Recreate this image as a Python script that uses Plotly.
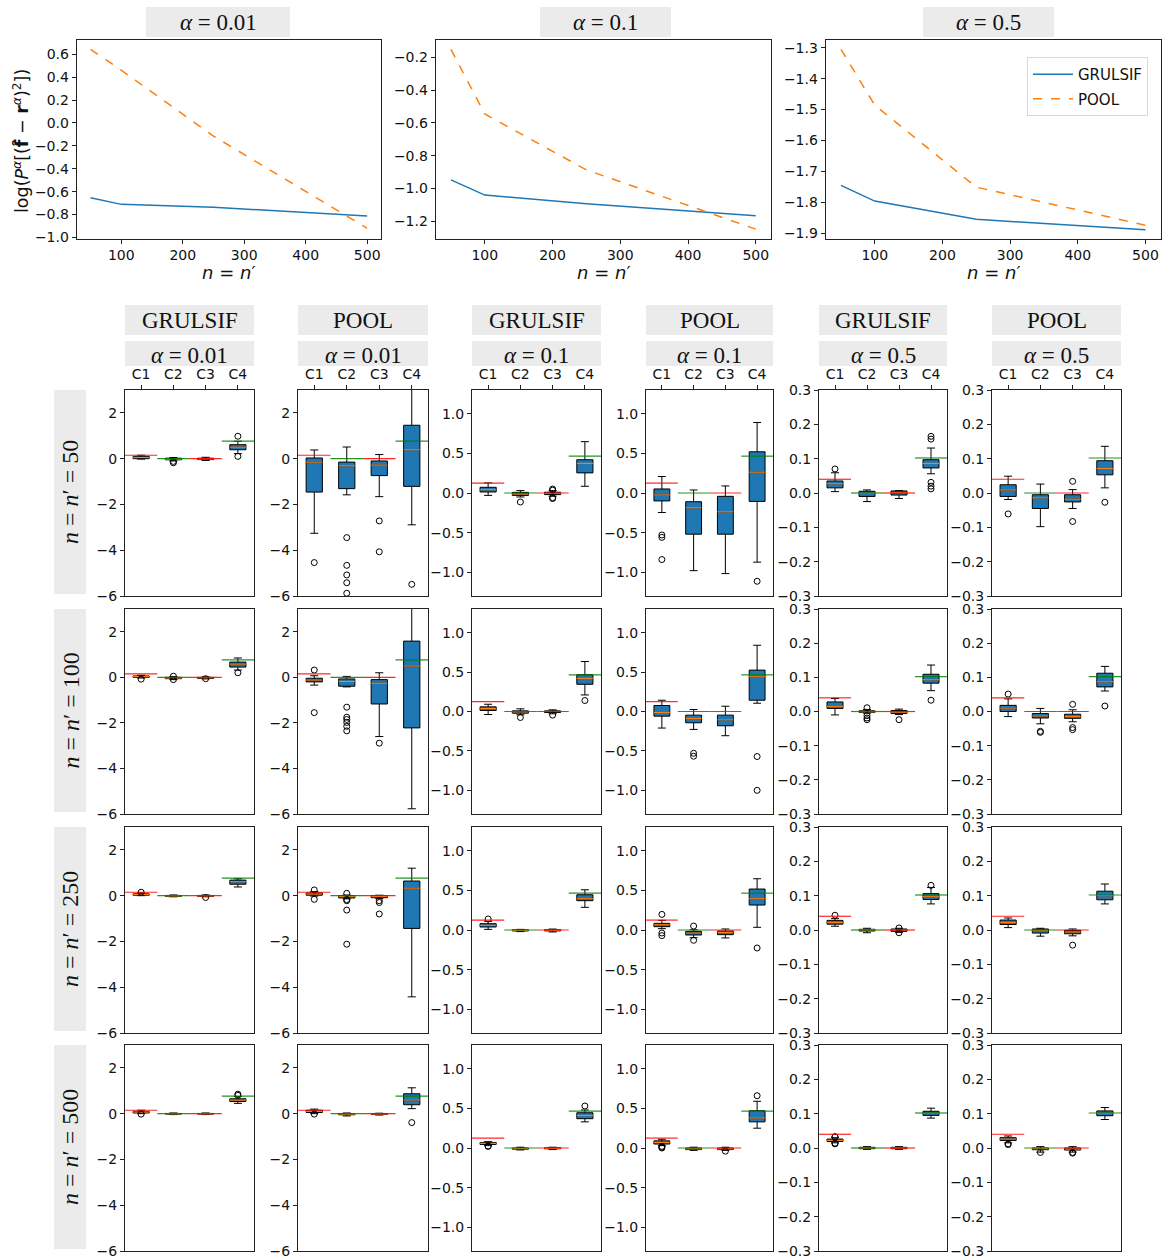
import plotly.graph_objects as go

W, H = 1164, 1260

# ---------------- data: top line plots ----------------
N_VALUES = [50, 100, 250, 500]
ALPHA_LABELS = ["0.01", "0.1", "0.5"]
GRULSIF_A001 = [-0.653, -0.711, -0.737, -0.812]
POOL_A001 = [0.643, 0.46, -0.115, -0.92]
GRULSIF_A01 = [-0.948, -1.041, -1.094, -1.167]
POOL_A01 = [-0.151, -0.546, -0.887, -1.249]
GRULSIF_A05 = [-1.745, -1.796, -1.855, -1.889]
POOL_A05 = [-1.305, -1.486, -1.751, -1.874]

# ---------------- data: boxplots ----------------
CATEGORIES = ["C1", "C2", "C3", "C4"]
METHODS = ["GRULSIF", "POOL"]
# each box: [lower whisker, q1, median, q3, upper whisker]
G001_50 = [[-0.02, 0.0, 0.05, 0.1, 0.15], [-0.1, -0.05, -0.02, 0.02, 0.05], [-0.08, -0.04, -0.01, 0.02, 0.06], [0.22, 0.39, 0.5, 0.61, 0.76]]
G001_50_OUT = [[], [-0.12, -0.18], [], [0.98, 0.1]]
P001_50 = [[-3.26, -1.46, -0.15, 0.03, 0.38], [-1.58, -1.31, -0.31, -0.15, 0.51], [-1.66, -0.74, -0.28, -0.1, 0.18], [-2.89, -1.21, 0.39, 1.46, 3.1]]
P001_50_OUT = [[-4.54], [-3.45, -4.66, -5.08, -5.42, -5.88], [-2.72, -4.07], [-5.49]]
G01_50 = [[-0.03, 0.013, 0.042, 0.072, 0.127], [-0.05, -0.03, -0.013, 0.008, 0.03], [-0.04, -0.02, -0.005, 0.01, 0.03], [0.085, 0.254, 0.373, 0.42, 0.648]]
G01_50_OUT = [[], [-0.114], [0.05, 0.035, -0.06, -0.07], []]
P01_50 = [[-0.246, -0.10, -0.025, 0.051, 0.208], [-0.98, -0.52, -0.186, -0.11, 0.038], [-1.017, -0.52, -0.237, -0.042, 0.089], [-0.873, -0.106, 0.263, 0.52, 0.89]]
P01_50_OUT = [[-0.53, -0.56, -0.84], [], [], [-1.114]]
G05_50 = [[0.004, 0.015, 0.027, 0.035, 0.059], [-0.025, -0.01, -0.001, 0.005, 0.009], [-0.016, -0.006, 0.001, 0.006, 0.007], [0.056, 0.073, 0.086, 0.097, 0.131]]
G05_50_OUT = [[0.07], [], [], [0.165, 0.157, 0.031, 0.02, 0.012]]
P05_50 = [[-0.019, -0.01, 0.009, 0.024, 0.049], [-0.098, -0.045, -0.014, -0.005, 0.026], [-0.045, -0.026, -0.018, -0.005, 0.01], [0.015, 0.053, 0.071, 0.094, 0.136]]
P05_50_OUT = [[-0.061], [], [0.034, -0.083], [-0.027]]

G001_100 = [[-0.03, 0.0, 0.03, 0.06, 0.09], [-0.1, -0.06, -0.03, 0.0, 0.03], [-0.07, -0.05, -0.02, 0.0, 0.02], [0.32, 0.45, 0.58, 0.67, 0.85]]
G001_100_OUT = [[-0.08], [0.05, -0.1], [-0.06], [0.2]]
P001_100 = [[-0.34, -0.2, -0.12, -0.04, 0.07], [-0.42, -0.39, -0.18, -0.07, 0.04], [-2.6, -1.17, -0.26, -0.1, 0.2], [-5.77, -2.22, 0.5, 1.59, 3.1]]
P001_100_OUT = [[0.32, -1.55], [-1.31, -1.75, -1.85, -1.98, -2.15, -2.35], [-2.89], []]
G01_100 = [[-0.038, 0.013, 0.038, 0.059, 0.092], [-0.042, -0.021, -0.004, 0.008, 0.034], [-0.029, -0.013, 0.0, 0.008, 0.021], [0.21, 0.345, 0.42, 0.466, 0.634]]
G01_100_OUT = [[], [-0.076], [-0.046], [0.139]]
P01_100 = [[-0.21, -0.059, -0.013, 0.076, 0.143], [-0.227, -0.143, -0.088, -0.046, 0.025], [-0.307, -0.181, -0.105, -0.046, 0.067], [0.105, 0.143, 0.441, 0.525, 0.84]]
P01_100_OUT = [[], [-0.53, -0.567], [], [-0.571, -1.0]]
G05_100 = [[-0.01, 0.009, 0.015, 0.028, 0.038], [-0.005, -0.003, -0.001, 0.002, 0.006], [-0.009, -0.006, -0.002, 0.003, 0.007], [0.061, 0.083, 0.093, 0.109, 0.136]]
G05_100_OUT = [[], [0.011, -0.012, -0.019, -0.024], [-0.024], [0.033]]
P05_100 = [[-0.015, 0.0, 0.01, 0.018, 0.037], [-0.036, -0.019, -0.013, -0.006, 0.009], [-0.03, -0.02, -0.015, -0.008, 0.005], [0.06, 0.072, 0.087, 0.112, 0.132]]
P05_100_OUT = [[0.051], [-0.058, -0.061], [0.021, -0.047, -0.053], [0.016]]

G001_250 = [[0.0, 0.02, 0.05, 0.08, 0.12], [-0.05, -0.03, -0.01, 0.01, 0.03], [-0.05, -0.03, -0.01, 0.01, 0.03], [0.38, 0.5, 0.61, 0.68, 0.74]]
G001_250_OUT = [[0.15], [], [-0.08], []]
P001_250 = [[-0.02, 0.02, 0.07, 0.12, 0.18], [-0.14, -0.1, -0.04, 0.0, 0.03], [-0.13, -0.09, -0.04, 0.0, 0.02], [-4.42, -1.43, 0.33, 0.64, 1.2]]
P001_250_OUT = [[0.25, -0.16], [0.1, -0.17, -0.22, -0.63, -2.12], [-0.22, -0.3, -0.8], []]
G01_250 = [[0.008, 0.038, 0.059, 0.08, 0.109], [-0.02, -0.012, -0.005, 0.002, 0.008], [-0.025, -0.012, -0.003, 0.004, 0.012], [0.286, 0.37, 0.395, 0.445, 0.508]]
G01_250_OUT = [[0.139], [], [], []]
P01_250 = [[0.017, 0.042, 0.067, 0.084, 0.122], [-0.097, -0.063, -0.038, -0.017, 0.004], [-0.1, -0.059, -0.03, -0.013, 0.013], [0.034, 0.315, 0.395, 0.517, 0.647]]
P01_250_OUT = [[0.197, -0.038, -0.071], [0.05, -0.13], [], [-0.227]]
G05_250 = [[0.011, 0.017, 0.022, 0.028, 0.033], [-0.008, -0.003, 0.0, 0.002, 0.005], [-0.007, -0.004, 0.0, 0.003, 0.005], [0.076, 0.089, 0.097, 0.106, 0.124]]
G05_250_OUT = [[0.043], [], [0.006, -0.008], [0.13]]
P05_250 = [[0.007, 0.016, 0.022, 0.029, 0.035], [-0.018, -0.009, -0.002, 0.003, 0.005], [-0.017, -0.011, -0.006, -0.001, 0.003], [0.076, 0.088, 0.1, 0.113, 0.134]]
P05_250_OUT = [[], [], [-0.044], []]

G001_500 = [[0.0, 0.03, 0.07, 0.1, 0.15], [-0.04, -0.02, -0.005, 0.01, 0.03], [-0.04, -0.02, -0.005, 0.01, 0.03], [0.45, 0.53, 0.59, 0.65, 0.75]]
G001_500_OUT = [[-0.02], [], [], [0.8, 0.85]]
P001_500 = [[0.0, 0.05, 0.1, 0.15, 0.2], [-0.1, -0.05, -0.02, 0.0, 0.03], [-0.06, -0.03, -0.01, 0.0, 0.02], [0.22, 0.39, 0.6, 0.87, 1.13]]
P001_500_OUT = [[-0.02], [], [], [-0.39]]
G01_500 = [[0.03, 0.045, 0.058, 0.07, 0.08], [-0.025, -0.015, -0.008, 0.0, 0.01], [-0.02, -0.01, -0.004, 0.002, 0.01], [0.33, 0.37, 0.41, 0.445, 0.48]]
G01_500_OUT = [[0.02, 0.025], [], [], [0.53]]
P01_500 = [[0.03, 0.05, 0.07, 0.09, 0.11], [-0.03, -0.02, -0.01, 0.0, 0.01], [-0.03, -0.02, -0.01, 0.0, 0.01], [0.25, 0.33, 0.38, 0.47, 0.59]]
P01_500_OUT = [[0.01, 0.0, 0.02], [], [-0.04], [0.66]]
G05_500 = [[0.015, 0.019, 0.022, 0.026, 0.03], [-0.004, -0.002, 0.0, 0.002, 0.004], [-0.004, -0.002, 0.0, 0.002, 0.004], [0.087, 0.095, 0.101, 0.107, 0.116]]
G05_500_OUT = [[0.012, 0.014, 0.032, 0.033], [], [], []]
P05_500 = [[0.015, 0.022, 0.026, 0.03, 0.035], [-0.012, -0.005, -0.002, 0.0, 0.004], [-0.012, -0.006, -0.003, 0.0, 0.004], [0.083, 0.094, 0.101, 0.108, 0.118]]
P05_500_OUT = [[0.01, 0.012], [-0.013], [-0.013, -0.015], []]

# reference (true) values per category, for each alpha
REF_A001 = [0.15, 0.0, 0.0, 0.77]
REF_A01 = [0.125, 0.0, 0.0, 0.465]
REF_A05 = [0.04, 0.0, 0.0, 0.102]

# ---------------- assembling tables ----------------
LINES = [(GRULSIF_A001, POOL_A001), (GRULSIF_A01, POOL_A01), (GRULSIF_A05, POOL_A05)]
REFS = [REF_A001, REF_A001, REF_A01, REF_A01, REF_A05, REF_A05]
BOX_ROWS = [
    [(G001_50, G001_50_OUT), (P001_50, P001_50_OUT), (G01_50, G01_50_OUT), (P01_50, P01_50_OUT), (G05_50, G05_50_OUT), (P05_50, P05_50_OUT)],
    [(G001_100, G001_100_OUT), (P001_100, P001_100_OUT), (G01_100, G01_100_OUT), (P01_100, P01_100_OUT), (G05_100, G05_100_OUT), (P05_100, P05_100_OUT)],
    [(G001_250, G001_250_OUT), (P001_250, P001_250_OUT), (G01_250, G01_250_OUT), (P01_250, P01_250_OUT), (G05_250, G05_250_OUT), (P05_250, P05_250_OUT)],
    [(G001_500, G001_500_OUT), (P001_500, P001_500_OUT), (G01_500, G01_500_OUT), (P01_500, P01_500_OUT), (G05_500, G05_500_OUT), (P05_500, P05_500_OUT)],
]

BLUE = "#1f77b4"
ORANGE = "#ff7f0e"
AXC = "#222222"
TICKFONT = dict(family="DejaVu Sans", size=14, color="#111111")
SERIF = "Liberation Serif"
STRIP = "#ebebeb"


def fx(p):
    return p / W


def fy(p):
    return 1 - p / H


fig = go.Figure()
layout = dict(
    width=W, height=H, margin=dict(l=0, r=0, t=0, b=0, pad=0, autoexpand=False),
    paper_bgcolor="white", plot_bgcolor="white", showlegend=True,
    boxmode="overlay", template="none",
)
shapes = []
annotations = []


def axis_base():
    return dict(showline=True, linecolor=AXC, linewidth=1, mirror=True, ticks="outside",
                ticklen=4, tickwidth=1, tickcolor=AXC, showgrid=False, zeroline=False,
                tickfont=TICKFONT, fixedrange=True, automargin=False)


def add_axes(i, xdom, ydom, xax, yax):
    xk = "xaxis" if i == 1 else f"xaxis{i}"
    yk = "yaxis" if i == 1 else f"yaxis{i}"
    xs = "x" if i == 1 else f"x{i}"
    ys = "y" if i == 1 else f"y{i}"
    xd = axis_base(); xd.update(xax); xd.update(domain=[fx(xdom[0]), fx(xdom[1])], anchor=ys)
    yd = axis_base(); yd.update(yax); yd.update(domain=[fy(ydom[1]), fy(ydom[0])], anchor=xs)
    layout[xk] = xd
    layout[yk] = yd
    return xs, ys


def strip(x0, x1, y0, y1, text, size, angle=0, dy=0):
    shapes.append(dict(type="rect", xref="paper", yref="paper", x0=fx(x0), x1=fx(x1),
                       y0=fy(y1), y1=fy(y0), fillcolor=STRIP, line=dict(width=0), layer="below"))
    annotations.append(dict(xref="paper", yref="paper", x=fx((x0 + x1) / 2), y=fy((y0 + y1) / 2 + dy),
                            text=text, showarrow=False, textangle=angle,
                            font=dict(family=SERIF, size=size, color="#111111"),
                            xanchor="center", yanchor="middle"))


# ---------------- top line plots ----------------
LINE_XDOM = [(76.7, 381), (435.7, 771), (825.7, 1160.7)]
LINE_YDOM = (40, 238.5)
LINE_YRANGE = [[-1.009, 0.724], [-1.306, -0.094], [-1.917, -1.275]]
LINE_DTICK = [0.2, 0.2, 0.1]
STRIP_TOP = [(146, 290), (540, 671), (923, 1054)]

for k in range(3):
    xs, ys = add_axes(k + 1, LINE_XDOM[k], LINE_YDOM,
                      dict(range=[27.5, 522.5], tick0=0, dtick=100),
                      dict(range=LINE_YRANGE[k], dtick=LINE_DTICK[k], tick0=0, tickformat=".1f"))
    g, p = LINES[k]
    fig.add_trace(go.Scatter(x=N_VALUES, y=g, mode="lines", line=dict(color=BLUE, width=1.5),
                             name="GRULSIF", legendgroup="g", showlegend=(k == 2),
                             xaxis=xs, yaxis=ys, hoverinfo="skip"))
    fig.add_trace(go.Scatter(x=N_VALUES, y=p, mode="lines", line=dict(color=ORANGE, width=1.5, dash="dash"),
                             name="POOL", legendgroup="p", showlegend=(k == 2),
                             xaxis=xs, yaxis=ys, hoverinfo="skip"))
    x0, x1 = STRIP_TOP[k]
    strip(x0, x1, 7, 37, f"<i>α</i> = {ALPHA_LABELS[k]}", 23)
    annotations.append(dict(xref="paper", yref="paper", x=fx((LINE_XDOM[k][0] + LINE_XDOM[k][1]) / 2),
                            y=fy(272), text="<i>n</i> = <i>n</i>′", showarrow=False,
                            font=dict(family="DejaVu Sans", size=18, color="#111111"),
                            xanchor="center", yanchor="middle"))

annotations.append(dict(xref="paper", yref="paper", x=fx(21), y=fy(141),
                        text="log(<i>P</i><sup><i>α</i></sup>[(<b>f̂</b> − <b>r</b><sup><i>α</i></sup>)<sup>2</sup>])",
                        textangle=-90, showarrow=False,
                        font=dict(family="DejaVu Sans", size=17.5, color="#111111"),
                        xanchor="center", yanchor="middle"))

layout["legend"] = dict(x=fx(1027), y=fy(57), xanchor="left", yanchor="top",
                        bgcolor="white", bordercolor="#d8d8d8", borderwidth=1,
                        font=dict(family="DejaVu Sans", size=15, color="#111111"),
                        tracegroupgap=2, itemwidth=40)

# ---------------- boxplot grid ----------------
COL_XDOM = [(125, 254), (298, 428), (472, 601), (646, 773), (819, 947), (992, 1121)]
ROW_YDOM = [(390, 596), (609, 814), (827, 1033), (1045, 1251)]
COL_YRANGE = [[-6, 3], [-6, 3], [-1.3, 1.3], [-1.3, 1.3], [-0.3, 0.3], [-0.3, 0.3]]
COL_DTICK = [2, 2, 0.5, 0.5, 0.1, 0.1]
COL_FMT = ["d", "d", ".1f", ".1f", ".1f", ".1f"]
REF_COLORS = ["red", "green", "red", "green"]
XPOS = [1, 2, 3, 4]
BOXW = 0.5

idx = 4
for r in range(4):
    for c in range(6):
        top = r == 0
        xax = dict(range=[0.5, 4.5], tickvals=XPOS, ticktext=CATEGORIES)
        if top:
            xax.update(side="top", showticklabels=True)
        else:
            xax.update(showticklabels=False, ticks="")
        xs, ys = add_axes(idx, COL_XDOM[c], ROW_YDOM[r], xax,
                          dict(range=COL_YRANGE[c], dtick=COL_DTICK[c], tick0=0, tickformat=COL_FMT[c]))
        idx += 1
        stats, outs = BOX_ROWS[r][c]
        fig.add_trace(go.Box(
            x=XPOS, lowerfence=[s[0] for s in stats], q1=[s[1] for s in stats],
            median=[s[2] for s in stats], q3=[s[3] for s in stats], upperfence=[s[4] for s in stats],
            width=BOXW, whiskerwidth=0.5, fillcolor=BLUE, line=dict(color="black", width=1),
            boxpoints=False, showlegend=False, hoverinfo="skip", xaxis=xs, yaxis=ys))
        # medians
        mx, my = [], []
        for xp, s in zip(XPOS, stats):
            mx += [xp - BOXW / 2, xp + BOXW / 2, None]
            my += [s[2], s[2], None]
        fig.add_trace(go.Scatter(x=mx, y=my, mode="lines", line=dict(color=ORANGE, width=1.2),
                                 showlegend=False, hoverinfo="skip", xaxis=xs, yaxis=ys))
        # outliers
        ox, oy = [], []
        for xp, o in zip(XPOS, outs):
            ox += [xp] * len(o)
            oy += o
        if ox:
            fig.add_trace(go.Scatter(x=ox, y=oy, mode="markers",
                                     marker=dict(symbol="circle-open", color="black", size=6, line=dict(width=1)),
                                     showlegend=False, hoverinfo="skip", xaxis=xs, yaxis=ys))
        # reference lines
        ref = REFS[c]
        for color in ("red", "green"):
            lx, ly = [], []
            for xp, v, rc in zip(XPOS, ref, REF_COLORS):
                if rc == color:
                    lx += [xp - 0.5, xp + 0.5, None]
                    ly += [v, v, None]
            fig.add_trace(go.Scatter(x=lx, y=ly, mode="lines", line=dict(color=color, width=1.2),
                                     opacity=0.85, showlegend=False, hoverinfo="skip", xaxis=xs, yaxis=ys))
        if top:
            strip(COL_XDOM[c][0], COL_XDOM[c][1], 305, 335, METHODS[c % 2], 23)
            strip(COL_XDOM[c][0], COL_XDOM[c][1], 341, 366, f"<i>α</i> = {ALPHA_LABELS[c // 2]}", 23, dy=2)
    strip(54, 86, ROW_YDOM[r][0], ROW_YDOM[r][1] - 2,
          f"<i>n</i> = <i>n</i>′ = {N_VALUES[r]}", 24, angle=-90)

layout["shapes"] = shapes
layout["annotations"] = annotations
fig.update_layout(**layout)
fig.write_html("out.html", config={"displayModeBar": False},
               post_script="document.body.style.margin='0px';document.body.style.padding='0px';document.body.style.overflow='hidden';")
